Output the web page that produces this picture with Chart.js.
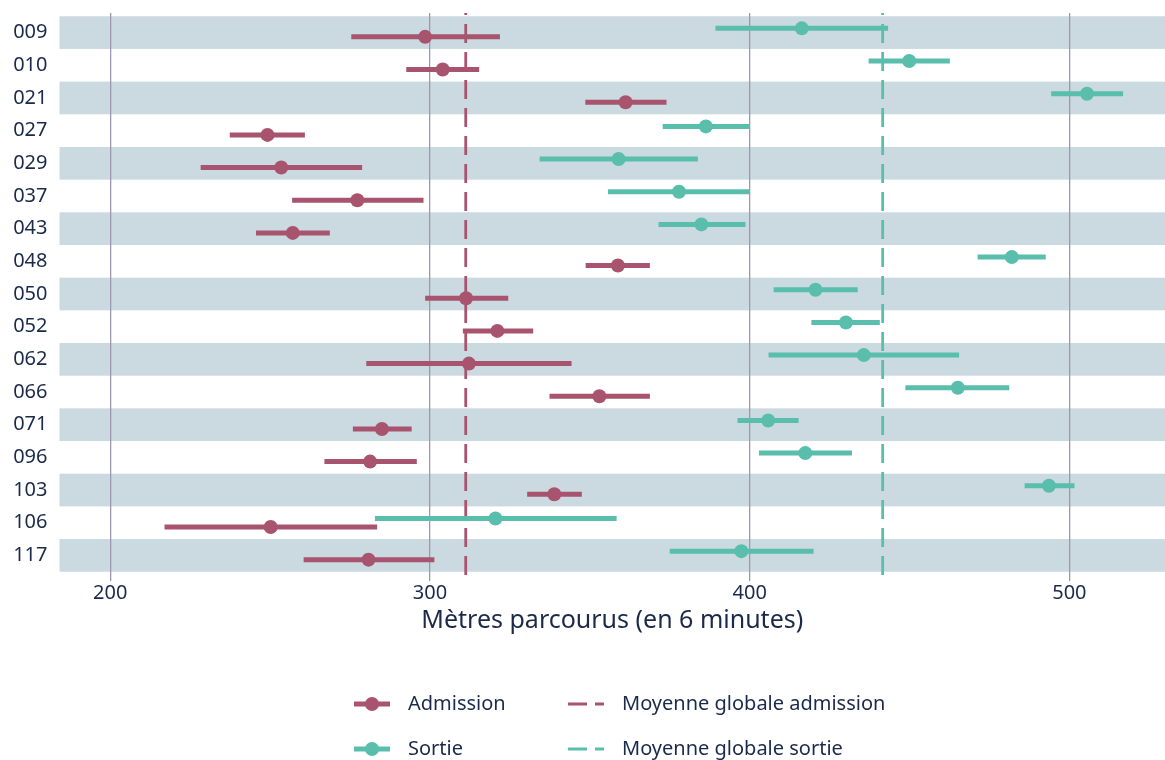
<!DOCTYPE html>
<html lang="fr">
<head>
<meta charset="utf-8">
<title>Test de marche de 6 minutes</title>
<script src="https://cdn.jsdelivr.net/npm/chart.js@4/dist/chart.umd.min.js"></script>
<style>
  html, body { margin: 0; padding: 0; background: #ffffff; }
  #wrap { width: 1165px; height: 760px; position: relative; }
</style>
</head>
<body>
<div id="wrap"><canvas id="c"></canvas></div>
<script>
// Patients (one row each)
const categories = ['009','010','021','027','029','037','043','048','050','052','062','066','071','096','103','106','117'];

// Admission: mean distance and interval bounds (metres in 6 minutes)
const admMean = [298.5, 304.0, 361.2, 249.2, 253.5, 277.3, 257.1, 358.8, 311.3, 321.1, 312.2, 353.0, 285.0, 281.3, 338.9, 250.2, 280.8];
const admLow  = [275.4, 292.6, 348.6, 237.4, 228.3, 256.9, 245.6, 348.7, 298.5, 310.3, 280.1, 337.4, 275.9, 267.0, 330.4, 217.0, 260.5];
const admHigh = [321.9, 315.4, 374.0, 260.9, 278.8, 298.0, 268.7, 368.8, 324.5, 332.3, 344.3, 368.8, 294.3, 295.9, 347.5, 283.5, 301.4];

// Sortie: mean distance and interval bounds
const sorMean = [416.3, 449.9, 505.5, 386.3, 359.0, 377.9, 384.9, 482.0, 420.6, 430.1, 435.7, 465.1, 405.8, 417.4, 493.6, 320.5, 397.4];
const sorLow  = [389.3, 437.2, 494.3, 372.8, 334.3, 355.7, 371.5, 471.3, 407.5, 419.3, 405.9, 448.7, 396.2, 402.9, 486.0, 282.8, 375.0];
const sorHigh = [443.3, 462.6, 516.8, 400.0, 383.8, 400.0, 398.7, 492.6, 433.8, 440.7, 465.5, 481.2, 415.3, 432.0, 501.6, 358.4, 420.0];

// Overall means
const admOverall = 311.2;
const sorOverall = 441.6;

// Axis ticks
const xTicks = [200, 300, 400, 500];

const FONT = "'Noto Sans', 'Open Sans', sans-serif";
const NAVY = '#1b2a4a';
const ROSE = '#a9546f';
const TEAL = '#5abead';
const BAND = '#cbdae0';
const GRID = '#9d97b2';

const Y_MIN = -0.6, Y_MAX = 16.6;
const DODGE = 0.13;

function rangeSegments(low, high, offset) {
  const pts = [];
  low.forEach((lo, i) => {
    pts.push({ x: lo, y: i + offset });
    pts.push({ x: high[i], y: i + offset });
    pts.push({ x: null, y: null });
  });
  return pts;
}
function meanPoints(mean, offset) {
  return mean.map((m, i) => ({ x: m, y: i + offset }));
}
function vline(v) {
  // drawn bottom to top
  return [{ x: v, y: Y_MAX }, { x: v, y: Y_MIN }];
}

// Alternating row bands behind everything
const rowBands = {
  id: 'rowBands',
  beforeDraw(chart) {
    const { ctx, chartArea, scales: { y } } = chart;
    ctx.save();
    ctx.fillStyle = BAND;
    categories.forEach((c, i) => {
      if (i % 2 !== 0) return;
      const y0 = y.getPixelForValue(i - 0.5);
      const y1 = y.getPixelForValue(i + 0.5);
      ctx.fillRect(chartArea.left, Math.min(y0, y1), chartArea.right - chartArea.left, Math.abs(y1 - y0));
    });
    ctx.restore();
  }
};

// Two-column legend under the axis title
const gridLegend = {
  id: 'gridLegend',
  afterDraw(chart) {
    const { ctx } = chart;
    const ds = chart.data.datasets;
    const byKey = k => ds.find(d => d.legendKey === k);
    const rows = [
      { y: 704, left: byKey('adm'), right: byKey('admMean') },
      { y: 749, left: byKey('sor'), right: byKey('sorMean') }
    ];
    ctx.save();
    ctx.font = '20px ' + FONT;
    ctx.textBaseline = 'middle';
    ctx.textAlign = 'left';
    rows.forEach(r => {
      // dot + range entry
      const col = r.left.pointBackgroundColor;
      ctx.strokeStyle = col;
      ctx.lineWidth = 5;
      ctx.lineCap = 'butt';
      ctx.beginPath();
      ctx.moveTo(354, r.y);
      ctx.lineTo(390, r.y);
      ctx.stroke();
      ctx.fillStyle = col;
      ctx.beginPath();
      ctx.arc(372, r.y, 7, 0, Math.PI * 2);
      ctx.fill();
      ctx.fillStyle = NAVY;
      ctx.fillText(r.left.label, 408, r.y);
      // dashed mean entry
      ctx.strokeStyle = r.right.borderColor;
      ctx.lineWidth = 2.8;
      ctx.setLineDash([19, 8]);
      ctx.beginPath();
      ctx.moveTo(568, r.y);
      ctx.lineTo(604, r.y);
      ctx.stroke();
      ctx.setLineDash([]);
      ctx.fillStyle = NAVY;
      ctx.fillText(r.right.label, 622, r.y);
    });
    ctx.restore();
  }
};

new Chart(document.getElementById('c'), {
  type: 'scatter',
  data: {
    datasets: [
      {
        label: 'Admission', legendKey: 'adm', type: 'scatter', order: 0,
        data: meanPoints(admMean, DODGE),
        pointRadius: 7, pointHoverRadius: 7, pointBorderWidth: 0,
        pointBackgroundColor: ROSE, backgroundColor: ROSE, borderColor: ROSE
      },
      {
        label: 'Sortie', legendKey: 'sor', type: 'scatter', order: 0,
        data: meanPoints(sorMean, -DODGE),
        pointRadius: 7, pointHoverRadius: 7, pointBorderWidth: 0,
        pointBackgroundColor: TEAL, backgroundColor: TEAL, borderColor: TEAL
      },
      {
        label: 'Admission intervalle', type: 'line', order: 1,
        data: rangeSegments(admLow, admHigh, DODGE),
        borderColor: ROSE, borderWidth: 5, borderCapStyle: 'butt',
        pointRadius: 0, spanGaps: false, fill: false
      },
      {
        label: 'Sortie intervalle', type: 'line', order: 1,
        data: rangeSegments(sorLow, sorHigh, -DODGE),
        borderColor: TEAL, borderWidth: 5, borderCapStyle: 'butt',
        pointRadius: 0, spanGaps: false, fill: false
      },
      {
        label: 'Moyenne globale admission', legendKey: 'admMean', type: 'line', order: 2,
        data: vline(admOverall),
        borderColor: ROSE, borderWidth: 2.8, borderDash: [19, 9], borderCapStyle: 'butt',
        pointRadius: 0, fill: false
      },
      {
        label: 'Moyenne globale sortie', legendKey: 'sorMean', type: 'line', order: 2,
        data: vline(sorOverall),
        borderColor: TEAL, borderWidth: 2.8, borderDash: [19, 9], borderCapStyle: 'butt',
        pointRadius: 0, fill: false
      }
    ]
  },
  options: {
    responsive: true,
    maintainAspectRatio: false,
    animation: false,
    events: [],
    layout: { autoPadding: false, padding: { top: 13, right: 0, bottom: 120, left: 0 } },
    plugins: {
      legend: { display: false },
      tooltip: { enabled: false },
      title: { display: false }
    },
    scales: {
      x: {
        type: 'linear',
        min: 184.15,
        max: 529.9,
        afterBuildTicks(scale) { scale.ticks = xTicks.map(v => ({ value: v })); },
        afterFit(scale) {
          scale.height = 65;
          scale.paddingLeft = 0;
          scale.paddingRight = 0;
        },
        border: { display: false },
        grid: { color: GRID, lineWidth: 1.3, drawTicks: true, tickLength: 6, tickColor: GRID },
        ticks: {
          autoSkip: false, maxRotation: 0, padding: 0,
          color: NAVY, font: { family: FONT, size: 20 },
          callback: v => String(v)
        },
        title: {
          display: true,
          text: 'Mètres parcourus (en 6 minutes)',
          color: NAVY,
          font: { family: FONT, size: 25 },
          padding: { top: 0, bottom: 4.5 }
        }
      },
      y: {
        type: 'linear',
        reverse: true,
        min: Y_MIN,
        max: Y_MAX,
        afterBuildTicks(scale) { scale.ticks = categories.map((c, i) => ({ value: i })); },
        afterFit(scale) {
          scale.width = 59.5;
          scale.paddingTop = 0;
          scale.paddingBottom = 0;
        },
        border: { display: false },
        grid: { display: false, drawTicks: false },
        ticks: {
          autoSkip: false, padding: 12,
          color: NAVY, font: { family: FONT, size: 20 },
          callback: v => categories[v] ?? ''
        }
      }
    }
  },
  plugins: [rowBands, gridLegend]
});
</script>
</body>
</html>
